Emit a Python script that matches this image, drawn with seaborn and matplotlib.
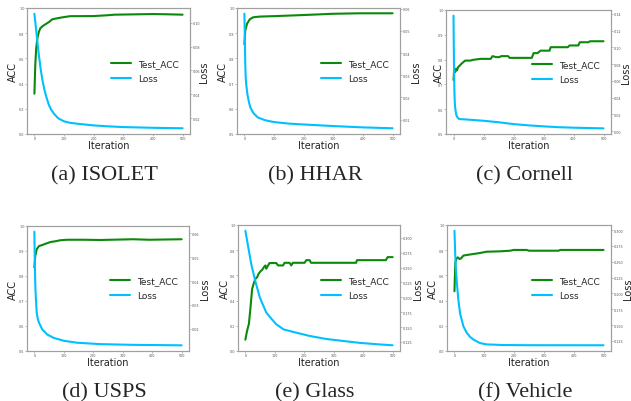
import matplotlib
matplotlib.use("Agg")
import matplotlib.pyplot as plt
import seaborn as sns
import pandas as pd

sns.set_style("white")
plt.rcParams["font.family"] = ["DejaVu Sans"]

# ---------------- data ----------------
isolet_acc_it = [0, 3, 6, 10, 15, 20, 30, 40, 50, 60, 80, 100, 120, 200, 250, 270, 400, 450, 500]
isolet_acc = [0.32, 0.55, 0.68, 0.76, 0.81, 0.84, 0.86, 0.875, 0.89, 0.91, 0.92, 0.928, 0.935,
              0.936, 0.943, 0.947, 0.952, 0.950, 0.947]
isolet_loss_it = [0, 5, 10, 15, 21, 27, 33, 40, 49, 57, 66, 80, 100, 120, 145, 200, 250, 300, 400, 500]
isolet_loss = [0.1075, 0.096, 0.084, 0.073, 0.0615, 0.052, 0.0447, 0.038, 0.031, 0.027, 0.0238,
               0.020, 0.0174, 0.0162, 0.0154, 0.014, 0.0132, 0.0126, 0.012, 0.0116]

hhar_acc_it = [0, 3, 9, 18, 29, 52, 108, 197, 298, 388, 500]
hhar_acc = [0.856, 0.912, 0.938, 0.955, 0.963, 0.966, 0.968, 0.972, 0.977, 0.979, 0.979]
hhar_loss_it = [0, 1, 2, 3, 4, 6, 10, 15, 20, 30, 45, 70, 100, 150, 200, 300, 400, 500]
hhar_loss = [0.0577, 0.050, 0.042, 0.035, 0.030, 0.026, 0.0215, 0.018, 0.0155, 0.013, 0.011,
             0.0097, 0.0089, 0.0082, 0.0078, 0.0071, 0.0065, 0.0061]

cornell_acc_it = [0, 2, 5, 8, 11, 15, 20, 28, 33, 39, 56, 65, 90, 124, 130, 142, 153, 159, 182,
                  187, 261, 267, 280, 290, 320, 324, 381, 387, 416, 421, 450, 455, 500]
cornell_acc = [0.718, 0.756, 0.749, 0.763, 0.756, 0.769, 0.775, 0.785, 0.790, 0.796, 0.796, 0.799,
               0.803, 0.803, 0.814, 0.810, 0.810, 0.814, 0.814, 0.807, 0.807, 0.826, 0.826, 0.836,
               0.836, 0.850, 0.850, 0.857, 0.857, 0.870, 0.870, 0.874, 0.874]
cornell_loss_it = [0, 1, 2, 3, 4, 5, 7, 10, 14, 19, 40, 100, 150, 200, 250, 300, 350, 400, 450, 500]
cornell_loss = [0.138, 0.10, 0.07, 0.048, 0.036, 0.030, 0.024, 0.0183, 0.016, 0.0143, 0.0139,
                0.0123, 0.0105, 0.0083, 0.0068, 0.0056, 0.0046, 0.0040, 0.0036, 0.0032]

usps_acc_it = [0, 3, 8, 16, 27, 38, 55, 72, 88, 111, 167, 223, 335, 391, 500]
usps_acc = [0.834, 0.880, 0.907, 0.920, 0.924, 0.929, 0.936, 0.939, 0.943, 0.945, 0.945, 0.944,
            0.947, 0.945, 0.947]
usps_loss_it = [0, 1, 2, 3, 5, 8, 12, 16, 27, 44, 66, 100, 144, 223, 334, 500]
usps_loss = [0.0607, 0.052, 0.045, 0.039, 0.033, 0.0267, 0.024, 0.0225, 0.0197, 0.0176, 0.0162,
             0.015, 0.0142, 0.0136, 0.0133, 0.0131]

glass_acc_it = [0, 6, 12, 17, 23, 28, 34, 40, 45, 51, 58, 63, 68, 71, 77, 82, 105, 111, 128, 133,
                150, 156, 161, 201, 207, 218, 223, 376, 379, 477, 483, 500]
glass_acc = [0.090, 0.162, 0.215, 0.334, 0.493, 0.533, 0.573, 0.586, 0.613, 0.631, 0.647, 0.666,
             0.679, 0.653, 0.679, 0.698, 0.698, 0.679, 0.679, 0.700, 0.700, 0.679, 0.700, 0.700,
             0.721, 0.721, 0.700, 0.700, 0.721, 0.721, 0.745, 0.745]
glass_loss_it = [0, 9, 20, 32, 49, 71, 90, 105, 130, 161, 218, 274, 331, 387, 450, 500]
glass_loss = [0.3118, 0.2865, 0.2557, 0.2305, 0.1997, 0.1744, 0.163, 0.1547, 0.146, 0.142, 0.1351,
              0.130, 0.1267, 0.1235, 0.121, 0.1194]

vehicle_acc_it = [0, 3, 7, 11, 17, 22, 30, 41, 64, 86, 108, 153, 187, 198, 243, 249, 349, 355, 500]
vehicle_acc = [0.474, 0.704, 0.735, 0.743, 0.730, 0.735, 0.757, 0.762, 0.770, 0.778, 0.788, 0.791,
               0.796, 0.802, 0.802, 0.796, 0.796, 0.802, 0.802]
vehicle_loss_it = [0, 2, 4, 8, 13, 19, 30, 41, 53, 64, 86, 108, 164, 250, 500]
vehicle_loss = [0.299, 0.27, 0.245, 0.2175, 0.19, 0.168, 0.148, 0.138, 0.131, 0.127, 0.1215,
                0.1195, 0.1185, 0.1182, 0.1181]

captions = ["(a) ISOLET", "(b) HHAR", "(c) Cornell", "(d) USPS", "(e) Glass", "(f) Vehicle"]
acc_ylims = [(0, 1), (0.5, 1), (0.5, 1), (0.5, 1), (0, 1), (0, 1)]

series = [
    (isolet_acc_it, isolet_acc, isolet_loss_it, isolet_loss),
    (hhar_acc_it, hhar_acc, hhar_loss_it, hhar_loss),
    (cornell_acc_it, cornell_acc, cornell_loss_it, cornell_loss),
    (usps_acc_it, usps_acc, usps_loss_it, usps_loss),
    (glass_acc_it, glass_acc, glass_loss_it, glass_loss),
    (vehicle_acc_it, vehicle_acc, vehicle_loss_it, vehicle_loss),
]

# ---------------- layout (pixels: left, top, right, bottom) ----------------
W, H = 631, 402
boxes = [(27, 9, 190, 135), (237, 9, 400, 135), (446, 11, 611, 135),
         (27, 227, 189, 352), (238, 226, 400, 352), (447, 226, 611, 352)]
left_lab_off = [-14, -14, -7, -14, -13.5, -14]      # px from left spine to ACC label centre
right_lab_off = [14.5, 15.5, 15.5, 15.5, 17.5, 16.5]  # px from right spine to Loss label centre
cap_pos = [(104, 180), (315, 180), (525, 180), (104, 397), (315, 397), (525, 397)]

ACC_COLOR = "#0a8a0a"
LOSS_COLOR = "#00c0ff"
SPINE = "#a0a0a0"

fig = plt.figure(figsize=(W / 100, H / 100), dpi=100)

for i, (ait, acc, lit, loss) in enumerate(series):
    l, t, r, b = boxes[i]
    w, h = r - l, b - t
    ax = fig.add_axes([l / W, 1 - b / H, w / W, h / H])
    ax2 = ax.twinx()
    df_acc = pd.DataFrame({"Iteration": ait, "ACC": acc})
    df_loss = pd.DataFrame({"Iteration": lit, "Loss": loss})
    sns.lineplot(data=df_acc, x="Iteration", y="ACC", ax=ax, color=ACC_COLOR, lw=1.5,
                 label="Test_ACC", legend=False)
    sns.lineplot(data=df_loss, x="Iteration", y="Loss", ax=ax2, color=LOSS_COLOR, lw=1.5,
                 label="Loss", legend=False)
    ax.set_ylim(*acc_ylims[i])
    ax.set_xticks([0, 100, 200, 300, 400, 500])
    for a in (ax, ax2):
        for s in a.spines.values():
            s.set_color(SPINE)
            s.set_linewidth(0.8)
        a.tick_params(labelsize=2.4, length=1.2, width=0.4, color="#888888",
                      labelcolor="#555555", pad=0.6)
    ax.tick_params(axis="both", left=True, bottom=True)
    ax2.tick_params(axis="y", right=True)
    ax.set_xlabel("Iteration", fontsize=7, color="#222222", va="center")
    ax.set_ylabel("ACC", fontsize=7, color="#222222", va="center")
    ax2.set_ylabel("Loss", fontsize=7, color="#222222", va="center")
    ax.xaxis.set_label_coords(0.5, -11 / h)
    ax.yaxis.set_label_coords(left_lab_off[i] / w, 0.5)
    ax2.yaxis.set_label_coords(1 + right_lab_off[i] / w, 0.5)
    h1, l1 = ax.get_legend_handles_labels()
    h2, l2 = ax2.get_legend_handles_labels()
    ax2.legend(h1 + h2, l1 + l2, loc="center right", frameon=False, fontsize=6.5,
               handlelength=2.2, borderaxespad=0.8, labelspacing=0.65)
    cx, cy = cap_pos[i]
    fig.text(cx / W, 1 - cy / H, captions[i], ha="center", va="baseline",
             family="Liberation Serif", fontsize=16)

fig.savefig("out.png", dpi=100)
